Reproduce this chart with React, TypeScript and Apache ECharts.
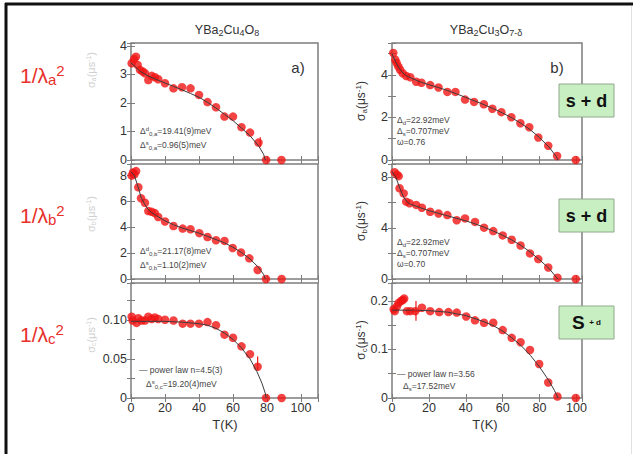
import React, { useEffect, useRef } from 'react';
import * as echarts from 'echarts';

// ---------------- data ----------------
// YBa2Cu4O8, panel a
const laT = [0.4, 1.8, 2.9, 3.9, 5.3, 6.9, 8.2, 10.2, 12.2, 14.1, 16, 20, 25, 30, 35, 40, 45, 50, 55, 60, 65, 70, 75, 79.5, 88.5];
const laV = [3.39, 3.53, 3.62, 3.33, 3.16, 3.1, 3.04, 2.8, 2.95, 2.9, 2.83, 2.69, 2.51, 2.55, 2.51, 2.28, 2.03, 1.85, 1.52, 1.52, 1.15, 0.96, 0.61, 0, 0];
const laFitT = [0, 2, 5, 10, 15, 20, 25, 30, 35, 40, 45, 50, 55, 60, 65, 70, 75, 78, 79];
const laFitV = [3.4, 3.3, 3.12, 2.95, 2.82, 2.7, 2.58, 2.46, 2.33, 2.2, 2.02, 1.82, 1.6, 1.38, 1.12, 0.85, 0.5, 0.2, 0];
// YBa2Cu4O8, panel b
const lbT = [0.4, 1.2, 2, 3, 4.3, 5.9, 8.2, 10.2, 12.2, 14, 16, 20, 25, 30.4, 35, 40.2, 45, 50, 55, 59.8, 64.7, 69.6, 74.5, 79.4, 88.6];
const lbV = [8.0, 8.25, 8.1, 8.35, 7.1, 6.25, 5.9, 5.26, 5.2, 5.1, 4.8, 4.45, 4.1, 3.9, 3.85, 3.55, 3.25, 3.0, 2.95, 2.4, 2.05, 1.6, 0.7, 0, 0];
const lbFitT = [0, 2, 4, 6, 8, 10, 12, 15, 20, 25, 30, 35, 40, 45, 50, 55, 60, 65, 70, 75, 78, 79];
const lbFitV = [8.3, 8.0, 7.2, 6.3, 5.8, 5.4, 5.15, 4.9, 4.5, 4.2, 3.95, 3.75, 3.55, 3.3, 3.05, 2.8, 2.45, 2.05, 1.55, 0.9, 0.35, 0];
// YBa2Cu4O8, panel c
const lcT = [0.4, 1, 3.3, 4.3, 6.2, 8.2, 10.2, 12.2, 14, 16, 20, 25, 30.4, 35, 40, 45, 50, 55, 60, 65, 70, 74.5, 79.4, 88.6];
const lcV = [0.104, 0.099, 0.096, 0.102, 0.099, 0.099, 0.104, 0.101, 0.103, 0.101, 0.1, 0.099, 0.095, 0.095, 0.095, 0.097, 0.093, 0.081, 0.077, 0.066, 0.056, 0.04, 0, 0];
const lcFitT = [0, 20, 30, 40, 45, 50, 55, 60, 65, 70, 74, 77, 79, 79.5];
const lcFitV = [0.098, 0.098, 0.097, 0.095, 0.093, 0.089, 0.083, 0.075, 0.064, 0.05, 0.034, 0.019, 0.006, 0];
// YBa2Cu3O7-d, panel a
const raT = [0.7, 1.8, 2.5, 3.4, 4.4, 5.8, 7.7, 9.9, 13.1, 16, 20.7, 25.2, 30, 34.4, 39.6, 44.5, 49.8, 54.4, 59.3, 64.7, 69.6, 74.4, 79.3, 84.7, 89.5, 99.6];
const raV = [5.03, 4.71, 4.56, 4.4, 4.24, 4.08, 3.95, 3.89, 3.68, 3.63, 3.52, 3.41, 3.2, 3.2, 2.84, 2.73, 2.62, 2.41, 2.25, 2.01, 1.73, 1.54, 1.06, 0.67, 0.19, 0];
const raFitT = [0, 2, 4, 6, 8, 10, 15, 20, 25, 30, 35, 40, 45, 50, 55, 60, 65, 70, 75, 80, 85, 89, 90];
const raFitV = [5.0, 4.6, 4.3, 4.08, 3.95, 3.87, 3.68, 3.54, 3.41, 3.27, 3.11, 2.94, 2.77, 2.6, 2.41, 2.21, 1.98, 1.72, 1.42, 1.05, 0.62, 0.17, 0];
// YBa2Cu3O7-d, panel b
const rbT = [1.4, 2.7, 3.6, 4.1, 6.3, 7.7, 9.5, 13.1, 16.2, 20.7, 25.2, 30, 35.1, 39.6, 45, 49.9, 54.9, 60, 64.9, 69.7, 74.8, 79.3, 84.7, 89.7, 99.6];
const rbV = [8.36, 8.17, 8.05, 7.1, 6.7, 6.05, 5.93, 5.8, 5.58, 5.26, 5.13, 5.0, 4.6, 4.74, 4.47, 4.02, 3.75, 3.41, 3.07, 2.62, 2.0, 1.56, 0.9, 0.1, 0];
const rbFitT = [0, 2, 4, 6, 8, 10, 15, 20, 25, 30, 35, 40, 45, 50, 55, 60, 65, 70, 75, 80, 85, 89, 90];
const rbFitV = [8.4, 8.0, 7.2, 6.5, 6.05, 5.85, 5.6, 5.35, 5.15, 4.95, 4.75, 4.55, 4.32, 4.05, 3.75, 3.42, 3.05, 2.62, 2.1, 1.5, 0.85, 0.15, 0];
// YBa2Cu3O7-d, panel c
const rcT = [0.9, 1.5, 2.7, 3.6, 4.9, 5.9, 6.6, 8.1, 9.9, 12.6, 16.2, 20.7, 25.6, 30.6, 35.1, 40.2, 45, 49.9, 54.9, 60, 64.9, 69.7, 74.8, 79.8, 84.7, 89.7, 99.6];
const rcV = [0.183, 0.179, 0.189, 0.196, 0.2, 0.202, 0.205, 0.179, 0.179, 0.179, 0.186, 0.179, 0.177, 0.177, 0.176, 0.168, 0.16, 0.155, 0.155, 0.14, 0.124, 0.115, 0.099, 0.07, 0.032, 0.003, 0];
const rcFitT = [0, 10, 20, 30, 40, 50, 55, 60, 65, 70, 75, 80, 85, 88, 90];
const rcFitV = [0.181, 0.181, 0.18, 0.177, 0.17, 0.157, 0.149, 0.138, 0.124, 0.108, 0.088, 0.064, 0.036, 0.016, 0];
// error bars [x1, y1, x2, y2]
const laErr = [[76, 0.45, 76, 0.8]];
const lcErr = [[74.5, 0.036, 74.5, 0.053]];
const rcErr = [[13, 0.159, 13, 0.2], [10.6, 0.179, 15.2, 0.179]];

const xTickLabels = [0, 20, 40, 60, 80, 100];

const FONT = '"Liberation Sans", Arial, Helvetica, sans-serif';
const GRAY = '#7d7d7d';
const RED = '#f01414';
const TXT = '#333';

const zip = (a: number[], b: number[]) => a.map((t, i) => [t, b[i]]);

const near = (v: number, step: number) => Math.abs(v / step - Math.round(v / step)) < 1e-6;

type Panel = {
  left: number; top: number; width: number; height: number;
  xmax: number; ymax: number; yInt: number;
  yFmt: (v: number) => string; showX: boolean;
  pts: number[][]; fit: number[][]; err?: number[][];
};

const LX = 131, LW = 187, RX = 392, RW = 190;
const ROWS = [[43, 117], [164, 115], [283, 115]];

const panels: Panel[] = [
  { left: LX, top: ROWS[0][0], width: LW, height: ROWS[0][1], xmax: 110, ymax: 4.1, yInt: 1,
    yFmt: (v) => (near(v, 1) ? String(Math.round(v)) : ''), showX: false, pts: zip(laT, laV), fit: zip(laFitT, laFitV), err: laErr },
  { left: LX, top: ROWS[1][0], width: LW, height: ROWS[1][1], xmax: 110, ymax: 8.9, yInt: 2,
    yFmt: (v) => (near(v, 2) ? String(Math.round(v)) : ''), showX: false, pts: zip(lbT, lbV), fit: zip(lbFitT, lbFitV) },
  { left: LX, top: ROWS[2][0], width: LW, height: ROWS[2][1], xmax: 110, ymax: 0.147, yInt: 0.025,
    yFmt: (v) => (near(v, 0.05) && v < 0.11 ? (v === 0 ? '0' : v.toFixed(2)) : ''), showX: true, pts: zip(lcT, lcV), fit: zip(lcFitT, lcFitV), err: lcErr },
  { left: RX, top: ROWS[0][0], width: RW, height: ROWS[0][1], xmax: 103, ymax: 5.5, yInt: 1,
    yFmt: (v) => (near(v, 2) ? String(Math.round(v)) : ''), showX: false, pts: zip(raT, raV), fit: zip(raFitT, raFitV) },
  { left: RX, top: ROWS[1][0], width: RW, height: ROWS[1][1], xmax: 103, ymax: 9, yInt: 2,
    yFmt: (v) => (near(v, 4) ? String(Math.round(v)) : ''), showX: false, pts: zip(rbT, rbV), fit: zip(rbFitT, rbFitV) },
  { left: RX, top: ROWS[2][0], width: RW, height: ROWS[2][1], xmax: 103, ymax: 0.237, yInt: 0.05,
    yFmt: (v) => (near(v, 0.1) ? (v === 0 ? '0' : v.toFixed(1)) : ''), showX: true, pts: zip(rcT, rcV), fit: zip(rcFitT, rcFitV), err: rcErr },
];

const tick = { show: true, inside: true, length: 4, lineStyle: { color: GRAY, width: 1 } };

function buildOption() {
  const grid: any[] = [];
  const xAxis: any[] = [];
  const yAxis: any[] = [];
  const series: any[] = [];
  panels.forEach((p, i) => {
    grid.push({ left: p.left, top: p.top, width: p.width, height: p.height, show: true, borderColor: GRAY, borderWidth: 1.5, backgroundColor: 'transparent' });
    ['bottom', 'top'].forEach((pos) => {
      xAxis.push({
        type: 'value', gridIndex: i, min: 0, max: p.xmax, interval: 20, position: pos,
        axisLine: { show: false }, splitLine: { show: false }, axisTick: tick,
        axisLabel: {
          show: p.showX && pos === 'bottom', color: TXT, fontSize: 12.5, fontFamily: FONT, margin: 3,
          formatter: (v: number) => (xTickLabels.indexOf(v) >= 0 ? String(v) : ''),
        },
      });
    });
    ['left', 'right'].forEach((pos) => {
      yAxis.push({
        type: 'value', gridIndex: i, min: 0, max: p.ymax, interval: p.yInt, position: pos,
        axisLine: { show: false }, splitLine: { show: false }, axisTick: tick,
        axisLabel: { show: pos === 'left', color: TXT, fontSize: 12.5, fontFamily: FONT, margin: 4, formatter: p.yFmt },
      });
    });
    const xi = i * 2, yi = i * 2;
    series.push({
      type: 'scatter', xAxisIndex: xi, yAxisIndex: yi, data: p.pts, symbolSize: 8.5,
      itemStyle: { color: RED }, z: 3,
    });
    series.push({
      type: 'line', xAxisIndex: xi, yAxisIndex: yi, data: p.fit, showSymbol: false, symbol: 'none',
      lineStyle: { color: '#3c3c3c', width: 1 }, z: 4, clip: true,
    });
    if (p.err) {
      series.push({
        type: 'custom', xAxisIndex: xi, yAxisIndex: yi, data: p.err, z: 5,
        renderItem: (_params: any, api: any) => {
          const a = api.coord([api.value(0), api.value(1)]);
          const b = api.coord([api.value(2), api.value(3)]);
          return { type: 'line', shape: { x1: a[0], y1: a[1], x2: b[0], y2: b[1] }, style: { stroke: RED, lineWidth: 1.2 } };
        },
      });
    }
  });

  const sub = (size: number, fill: string, pad: number) => ({ fontSize: size, fill, fontFamily: FONT, padding: [pad, 0, 0, 0] });
  const sup = (size: number, fill: string, pad: number) => ({ fontSize: size, fill, fontFamily: FONT, padding: [0, 0, pad, 0] });
  const norm = (size: number, fill: string, weight = 'normal') => ({ fontSize: size, fill, fontFamily: FONT, fontWeight: weight });

  const richText = (x: number, y: number, text: string, rich: any, align = 'left', extra: any = {}) => ({
    type: 'text', x, y, silent: true, ...extra,
    style: { text, rich, align, verticalAlign: 'middle', fill: TXT, fontFamily: FONT },
  });

  const annRich = { m: norm(8.5, '#444'), p: sup(6, '#444', 5), b: sub(6, '#444', 5) };

  const redRich = { m: norm(21, '#e8302a'), b: sub(15, '#e8302a', 9), p: sup(15, '#e8302a', 9) };

  const graphic: any[] = [
    // outer frame
    { type: 'line', shape: { x1: 5, y1: 4, x2: 633, y2: 4 }, style: { stroke: '#111', lineWidth: 3 } },
    { type: 'line', shape: { x1: 6, y1: 3, x2: 6, y2: 454 }, style: { stroke: '#111', lineWidth: 3 } },
    { type: 'line', shape: { x1: 631.5, y1: 6, x2: 631.5, y2: 454 }, style: { stroke: '#e0e0e0', lineWidth: 1 } },
    // titles
    richText(227, 30, '{m|YBa}{b|2}{m|Cu}{b|4}{m|O}{b|8}', { m: norm(12.5, TXT), b: sub(9, TXT, 6) }, 'center'),
    richText(486, 30, '{m|YBa}{b|2}{m|Cu}{b|3}{m|O}{b|7-δ}', { m: norm(12.5, TXT), b: sub(9, TXT, 6) }, 'center'),
    // panel letters
    richText(298, 67, '{m|a)}', { m: norm(15, TXT) }, 'center'),
    richText(557, 67, '{m|b)}', { m: norm(15, TXT) }, 'center'),
    // T(K)
    richText(225, 424, '{m|T(K)}', { m: norm(13, TXT) }, 'center'),
    richText(485, 424, '{m|T(K)}', { m: norm(13, TXT) }, 'center'),
    // red labels
    richText(20, 75, '{m|1/λ}{b|a}{p|2}', redRich),
    richText(20, 215, '{m|1/λ}{b|b}{p|2}', redRich),
    richText(20, 334, '{m|1/λ}{b|c}{p|2}', redRich),
    // right y-axis names
    ...[[101, 'a'], [221, 'b'], [340, 'c']].map(([y, s]) =>
      richText(361, y as number, `{m|σ}{b|${s}}{m|(μs}{p|-1}{m|)}`, { m: norm(12, TXT), b: sub(8, TXT, 6), p: sup(8, TXT, 6) }, 'center', { rotation: Math.PI / 2 })),
    // faint left y-axis names
    ...[[70, 'a'], [214, 'b'], [335, 'c']].map(([y, s]) =>
      richText(91, y as number, `{m|σ}{b|${s}}{m|(μs}{p|-1}{m|)}`, { m: norm(11, '#cfcfcf'), b: sub(7, '#cfcfcf', 5), p: sup(7, '#cfcfcf', 5) }, 'center', { rotation: Math.PI / 2 })),
    // annotations left column
    richText(140, 131, '{m|Δ}{p|d}{b|0,a}{m|=19.41(9)meV}', annRich),
    richText(140, 145, '{m|Δ}{p|s}{b|0,a}{m|=0.96(5)meV}', annRich),
    richText(140, 251, '{m|Δ}{p|d}{b|0,b}{m|=21.17(8)meV}', annRich),
    richText(140, 265, '{m|Δ}{p|s}{b|0,b}{m|=1.10(2)meV}', annRich),
    richText(139, 370, '{m|— power law n=4.5(3)}', annRich),
    richText(146, 384, '{m|Δ}{p|s}{b|0,c}{m|=19.20(4)meV}', annRich),
    // annotations right column
    richText(397, 120, '{m|Δ}{b|d}{m|=22.92meV}', annRich),
    richText(397, 131, '{m|Δ}{b|s}{m|=0.707meV}', annRich),
    richText(397, 142, '{m|ω=0.76}', annRich),
    richText(397, 242, '{m|Δ}{b|d}{m|=22.92meV}', annRich),
    richText(397, 253, '{m|Δ}{b|s}{m|=0.707meV}', annRich),
    richText(397, 264, '{m|ω=0.70}', annRich),
    richText(397, 374, '{m|— power law n=3.56}', annRich),
    richText(403, 386, '{m|Δ}{b|s}{m|=17.52meV}', annRich),
  ];

  // green boxes
  [84, 199, 306].forEach((y, k) => {
    graphic.push({ type: 'rect', shape: { x: 559, y, width: 55, height: 33 }, style: { fill: '#c8efc2', stroke: '#8fa88c', lineWidth: 1 }, z: 10 });
    if (k < 2) {
      graphic.push({ ...richText(586.5, y + 16.5, '{m|s + d}', { m: norm(18, '#111', 'bold') }, 'center'), z: 11 });
    } else {
      graphic.push({ ...richText(586.5, y + 16.5, '{m|S}{s|  + d}', { m: norm(19, '#111', 'bold'), s: norm(8, '#111', 'bold') }, 'center'), z: 11 });
    }
  });

  return {
    animation: false,
    backgroundColor: '#ffffff',
    grid, xAxis, yAxis, series, graphic,
  };
}

export default function App() {
  const ref = useRef<HTMLDivElement>(null);
  useEffect(() => {
    if (!ref.current) return;
    const chart = echarts.init(ref.current, undefined, { renderer: 'svg' });
    chart.setOption(buildOption() as any);
    return () => chart.dispose();
  }, []);
  return (
    <div
      ref={ref}
      style={{ position: 'absolute', left: 0, top: 0, width: 633, height: 454, background: '#fff' }}
    />
  );
}
